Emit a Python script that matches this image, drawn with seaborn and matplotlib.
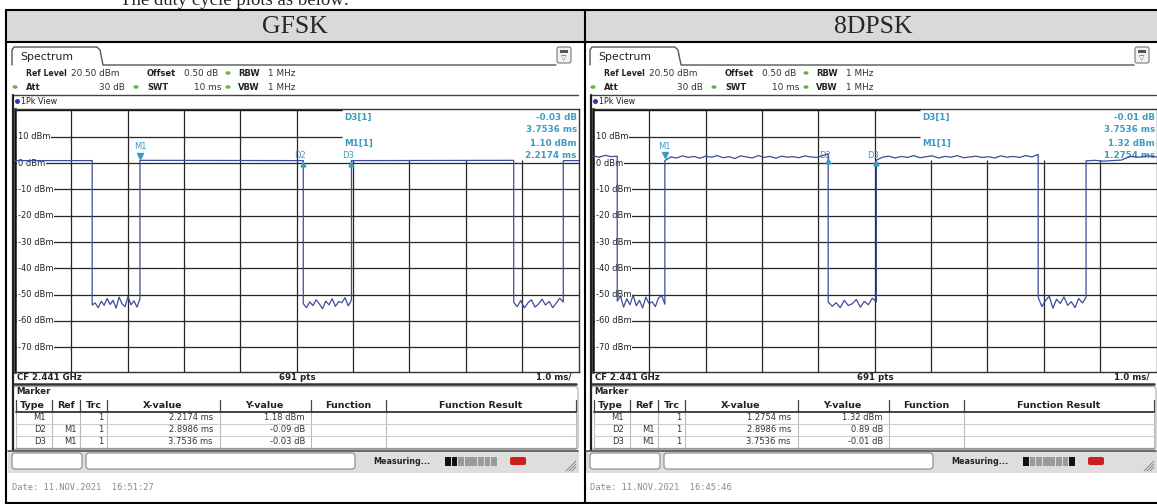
import numpy as np
import pandas as pd
import matplotlib
matplotlib.use("Agg")
import matplotlib.pyplot as plt
from matplotlib.patches import Rectangle, FancyBboxPatch, Ellipse
import seaborn as sns

sns.set_style("white")
plt.rcParams['font.family'] = ['DejaVu Sans']

W, H = 1157, 504

# ---------------- data ----------------
# time in ms (1.0 ms/div, 10 ms sweep), level in dBm
level_ticks = [10, 0, -10, -20, -30, -40, -50, -60, -70]

# GFSK: edges of the bursts, on-levels and noise floor samples
gfsk_edges = [1.37, 2.2174, 5.116, 5.971, 8.85, 9.73]
gfsk_on = [[1.0, 1.0], [1.1, 1.0], [1.0, 1.1], [1.0, 1.0]]
gfsk_off = [
    [-54.0, -53.2, -55.0, -52.6, -54.1, -51.5, -53.8, -52.2, -55.2, -51.0,
     -53.5, -54.6, -50.8, -53.9, -52.4, -54.8, -51.7],
    [-53.5, -55.0, -52.8, -54.2, -52.0, -53.6, -55.4, -52.5, -53.9, -51.6,
     -54.5, -52.7, -53.1, -51.2, -54.3, -52.1],
    [-53.0, -54.6, -52.3, -55.1, -53.2, -52.0, -54.8, -53.6, -51.8, -54.0,
     -52.6, -55.0, -53.3, -51.4, -52.9],
]

# 8DPSK
dpsk_edges = [0.43, 1.2754, 4.174, 5.029, 7.90, 8.75]
dpsk_on = [
    [2.8, 2.3, 3.0, 2.5, 2.7],
    [1.0, 2.4, 2.0, 2.8, 2.2, 2.6, 1.9, 2.7, 2.3, 2.9, 2.1, 2.5, 1.8, 2.8, 2.4,
     2.0, 2.9, 2.2, 2.6, 1.9, 2.7, 2.3, 2.5, 2.1, 2.8, 2.4, 2.2, 2.9, 3.6],
    [1.2, 2.3, 2.7, 2.0, 2.6, 2.2, 2.9, 2.1, 2.5, 2.8, 2.0, 2.6, 2.3, 2.9, 2.1,
     2.4, 2.7, 2.2, 2.5, 2.0, 2.8, 2.3, 2.6, 2.2, 2.9, 2.4, 3.4],
    [0.9, 1.1, 0.8, 1.0, 1.2, 2.6, 2.3, 2.8, 2.4],
]
dpsk_off = [
    [-52.5, -50.5, -54.8, -51.6, -53.9, -50.2, -54.3, -52.2, -55.1, -51.0,
     -53.4, -52.8, -54.6, -51.3, -50.4, -53.7],
    [-52.8, -54.5, -53.1, -55.0, -52.2, -54.2, -53.5, -51.9, -54.8, -52.6,
     -53.9, -51.4, -52.8],
    [-51.0, -54.6, -52.3, -50.6, -55.2, -51.8, -53.4, -50.9, -54.1, -52.7,
     -55.0, -51.5, -53.2, -51.1],
]

# marker table rows: type, ref, trc, x-value, y-value
gfsk_table = [("M1", "", "1", "2.2174 ms", "1.18 dBm"),
              ("D2", "M1", "1", "2.8986 ms", "-0.09 dB"),
              ("D3", "M1", "1", "3.7536 ms", "-0.03 dB")]
dpsk_table = [("M1", "", "1", "1.2754 ms", "1.32 dBm"),
              ("D2", "M1", "1", "2.8986 ms", "0.89 dB"),
              ("D3", "M1", "1", "3.7536 ms", "-0.01 dB")]
gfsk_m1 = (2.2174, 1.18)
dpsk_m1 = (1.2754, 1.32)
delta_x = [2.8986, 3.7536]
gfsk_delta_y = [-0.09, -0.03]
dpsk_delta_y = [0.89, -0.01]
gfsk_info = ["-0.03 dB", "3.7536 ms", "1.10 dBm", "2.2174 ms"]
dpsk_info = ["-0.01 dB", "3.7536 ms", "1.32 dBm", "1.2754 ms"]
dates = ["Date: 11.NOV.2021  16:51:27", "Date: 11.NOV.2021  16:45:46"]
modes = ["GFSK", "8DPSK"]

TEAL = "#3a9cc4"
TRACE = "#3d4c9a"
UI = "#222222"


def build_trace(edges, on, off):
    t, v = [], []
    bounds = [0.0] + edges + [10.0]
    for i in range(len(bounds) - 1):
        seg = on[i // 2] if i % 2 == 0 else off[i // 2]
        t += list(np.linspace(bounds[i], bounds[i + 1], len(seg)))
        v += seg
    return pd.DataFrame({"time": t, "level": v})


fig = plt.figure(figsize=(W / 100, H / 100), dpi=100)
bg = fig.add_axes([0, 0, 1, 1])
bg.set_xlim(0, W)
bg.set_ylim(H, 0)
bg.axis("off")

# table frame + header band
bg.add_patch(Rectangle((6, 10), W, 32, fc="#d9d9d9", ec="none"))
for yy in (10, 42, 502.5):
    bg.plot([6, W], [yy, yy], color="k", lw=1.5)
for xx in (6, 585):
    bg.plot([xx, xx], [10, 503], color="k", lw=1.5)
# sentence above the table, cut by the top edge as in the source page
bg.text(120, 5, "The duty cycle plots as below:", family="Liberation Serif",
        fontsize=13.5, va="baseline")


def dot(x, y, c, w=5, h=3.6):
    bg.add_patch(Ellipse((x, y), w, h, fc=c, ec="none"))


def draw_panel(dx, mode, df, m1, dys, info, table, date, bar):
    bg.text(dx + 295, 27, mode, family="Liberation Serif", fontsize=18.5,
            ha="center", va="center")
    # tab + top icon
    bg.plot(np.array([12, 12, 14, 97, 100, 103, 556]) + dx,
            [65, 50, 47, 47, 50, 65, 65], color="#555", lw=1)
    bg.text(dx + 20, 57, "Spectrum", fontsize=7.8, color=UI, va="center")
    bg.add_patch(FancyBboxPatch((dx + 557, 47), 14, 16,
                                boxstyle="round,pad=0,rounding_size=2",
                                fc="#f2f2f2", ec="#777", lw=0.8))
    bg.add_patch(Rectangle((dx + 560, 50), 8, 3, fc="#555", ec="none"))
    bg.text(dx + 564, 58.5, "▽", fontsize=5, ha="center", va="center", color="#555")

    # settings rows
    r1, r2 = 73, 87
    kb = dict(fontsize=6.0, color=UI, va="center", weight="bold")
    kw = dict(fontsize=6.4, color="#333", va="center")
    bg.text(dx + 26, r1, "Ref Level", **{**kb, "fontsize": 5.6})
    bg.text(dx + 71, r1, "20.50 dBm", **kw)
    bg.text(dx + 147, r1, "Offset", **kb)
    bg.text(dx + 184, r1, "0.50 dB", **kw)
    dot(dx + 228, r1, "#6ab04c")
    bg.text(dx + 238, r1, "RBW", **kb)
    bg.text(dx + 268, r1, "1 MHz", **kw)
    dot(dx + 15, r2, "#6ab04c")
    bg.text(dx + 26, r2, "Att", **kb)
    bg.text(dx + 125, r2, "30 dB", ha="right", **kw)
    dot(dx + 136, r2, "#6ab04c")
    bg.text(dx + 147, r2, "SWT", **kb)
    bg.text(dx + 221, r2, "10 ms", ha="right", **kw)
    dot(dx + 228, r2, "#6ab04c")
    bg.text(dx + 238, r2, "VBW", **kb)
    bg.text(dx + 268, r2, "1 MHz", **kw)

    bg.plot([dx + 13, dx + 578], [94.5, 94.5], color="#444", lw=1)
    dot(dx + 17.5, 101.5, "#2b3bb0", 5, 5)
    bg.text(dx + 21, 101.5, "1Pk View", fontsize=5.8, color=UI, va="center")
    bg.plot([dx + 12.5, dx + 12.5], [95, 450], color="#222", lw=1.6)

    # trace axes
    ax = fig.add_axes([(dx + 15) / W, 1 - 372 / H, 563.5 / W, 262.6 / H])
    ax.set_zorder(2)
    sns.lineplot(data=df, x="time", y="level", ax=ax, color=TRACE, lw=0.9,
                 sort=False, estimator=None, legend=False, zorder=4)
    ax.set_xlim(0, 10)
    ax.set_ylim(-79.5, 20.5)
    ax.set_xticks([])
    ax.set_yticks([])
    ax.set_xlabel("")
    ax.set_ylabel("")
    for s in ax.spines.values():
        s.set_color("#333")
        s.set_linewidth(1)
    ax.spines["left"].set_color("#111")
    ax.spines["left"].set_linewidth(1.8)
    for ms in range(1, 10):
        ax.vlines(ms, -79.5, 20.5 if ms <= 5 else 1.2, color="#262626", lw=0.9, zorder=1)
    for lv in level_ticks:
        ax.hlines(lv, 0, 5.8 if lv == 10 else 10, color="#262626", lw=0.9, zorder=1)
        ax.text(0.05, lv, f"{lv} dBm", fontsize=6, color=UI, ha="left", va="center",
                zorder=3, bbox=dict(fc="white", ec="none", pad=0.4))
    ax.hlines(20.3, 0, 5.8, color="#111", lw=1, zorder=1)

    # markers
    mx = [m1[0]] + [m1[0] + d for d in delta_x]
    my = [m1[1]] + [m1[1] + d for d in dys]
    ax.plot(mx[0], my[0] + 1.7, marker="v", ms=4.5, color=TEAL, zorder=5)
    ax.text(mx[0], 6.2, "M1", color=TEAL, fontsize=6, ha="center", va="center", zorder=5)
    for x, y, name in zip(mx[1:], my[1:], ["D2", "D3"]):
        ax.plot(x, y - 1.3, marker="^", ms=3.5, color=TEAL, zorder=5)
        ax.text(x - 0.06, 3.0, name, color=TEAL, fontsize=6, ha="center",
                va="center", zorder=3)
    ik = dict(color=TEAL, fontsize=6.3, weight="bold", va="center", zorder=3)
    ax.text(5.85, 17.6, "D3[1]", ha="left", **ik)
    ax.text(9.97, 17.6, info[0], ha="right", **ik)
    ax.text(9.97, 13.0, info[1], ha="right", **ik)
    ax.text(5.85, 7.7, "M1[1]", ha="left", **ik)
    ax.text(9.97, 7.7, info[2], ha="right", **ik)
    ax.text(9.97, 3.1, info[3], ha="right", **ik)

    # footer of the diagram
    bk = dict(fontsize=6.2, weight="bold", color=UI, va="center")
    bg.text(dx + 17, 377.5, "CF 2.441 GHz", ha="left", **bk)
    bg.text(dx + 297, 377.5, "691 pts", ha="center", **bk)
    bg.text(dx + 571, 377.5, "1.0 ms/", ha="right", **bk)
    bg.plot([dx + 14, dx + 576], [384, 384], color="#333", lw=1.8)

    # marker table
    bg.add_patch(FancyBboxPatch((dx + 13, 386.5), 565, 63,
                                boxstyle="round,pad=0,rounding_size=3",
                                fc="white", ec="#aaaaaa", lw=0.8))
    bg.text(dx + 16, 392, "Marker", ha="left", **bk)
    cols = [16, 52, 80, 107, 220, 311, 386, 576]
    for c in cols:
        bg.plot([dx + c, dx + c], [400, 412], color="#444", lw=0.9)
        bg.plot([dx + c, dx + c], [412, 448], color="#bbbbbb", lw=0.8)
    bg.plot([dx + 16, dx + 576], [412, 412], color="#333", lw=1.3)
    for yy in (424, 436):
        bg.plot([dx + 16, dx + 576], [yy, yy], color="#cccccc", lw=0.8)
    bg.plot([dx + 16, dx + 576], [448, 448], color="#999", lw=0.9)
    hk = dict(fontsize=6.8, weight="bold", color=UI, ha="center", va="center")
    for x, name in zip([32, 66, 94, 163, 264, 348, 481],
                       ["Type", "Ref", "Trc", "X-value", "Y-value", "Function",
                        "Function Result"]):
        bg.text(dx + x, 406, name, **hk)
    rk = dict(fontsize=6, color="#333", ha="right", va="center")
    for row, yy in zip(table, (418, 430, 442)):
        for x, val in zip([46, 77, 103, 213, 305], row):
            bg.text(dx + x, yy, val, **rk)

    # status bar
    bg.add_patch(Rectangle((dx + 8, 450), 571, 23, fc="#dedede", ec="none"))
    bg.plot([dx + 8, dx + 578], [450.5, 450.5], color="#555", lw=1.2)
    bg.add_patch(FancyBboxPatch((dx + 12, 453), 70, 16,
                                boxstyle="round,pad=0,rounding_size=3",
                                fc="white", ec="#888", lw=0.8))
    bg.add_patch(FancyBboxPatch((dx + 86, 453), 269, 16,
                                boxstyle="round,pad=0,rounding_size=3",
                                fc="white", ec="#888", lw=0.8))
    bg.text(dx + 373, 461.5, "Measuring...", fontsize=5.8, weight="bold",
            color=UI, va="center")
    for i, c in enumerate(bar):
        bg.add_patch(Rectangle((dx + 445 + i * 6.6, 457), 5.8, 9, fc=c, ec="none"))
    bg.add_patch(FancyBboxPatch((dx + 510, 457), 16, 8,
                                boxstyle="round,pad=0,rounding_size=2",
                                fc="#cc2020", ec="none"))
    for k in range(3):
        bg.plot([dx + 566 + 3 * k, dx + 576], [471, 461 + 3 * k], color="#777", lw=0.6)

    bg.text(dx + 12, 487, date, family="DejaVu Sans Mono", fontsize=6.3,
            color="#8a8a8a", va="center")


gray, dark = "#9a9a9a", "#111111"
draw_panel(0, modes[0], build_trace(gfsk_edges, gfsk_on, gfsk_off), gfsk_m1,
           gfsk_delta_y, gfsk_info, gfsk_table, dates[0],
           [dark, dark, gray, gray, gray, gray, gray, gray])
draw_panel(578, modes[1], build_trace(dpsk_edges, dpsk_on, dpsk_off), dpsk_m1,
           dpsk_delta_y, dpsk_info, dpsk_table, dates[1],
           [dark, gray, gray, gray, gray, gray, gray, dark])

fig.savefig("out.png", dpi=100)
